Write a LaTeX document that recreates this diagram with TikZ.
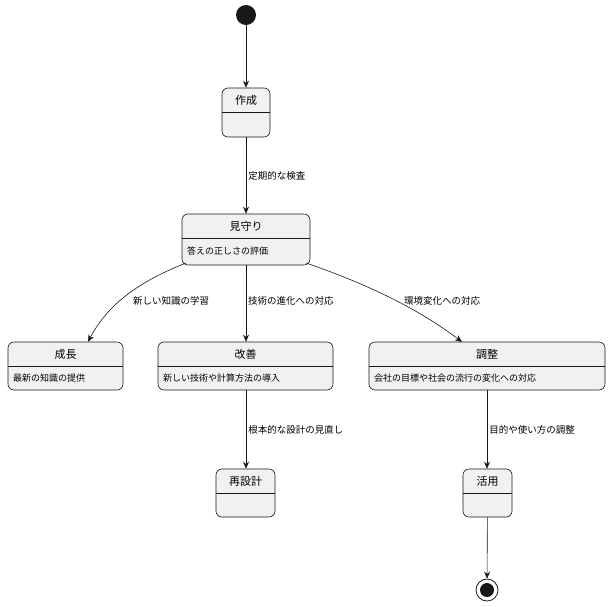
\documentclass[tikz,border=0pt]{standalone}
\usepackage{fontspec}
\setmainfont{Noto Sans CJK JP}
\usetikzlibrary{arrows.meta}
\definecolor{bx}{HTML}{F1F1F1}
\definecolor{ln}{HTML}{181818}
\tikzset{
 st/.style={draw=ln,fill=bx,rounded corners=6pt,inner sep=0pt,line width=0.6pt},
 ttl/.style={font=\fontsize{11}{13}\selectfont,inner sep=0pt},
 bdy/.style={font=\fontsize{9}{11}\selectfont,inner sep=0pt,anchor=west},
 lbl/.style={font=\fontsize{9.5}{11}\selectfont,inner sep=0pt,anchor=west},
 ar/.style={draw=ln,line width=0.6pt,-{Stealth[length=7pt,width=6pt]}}
}
% name, left, top, right, bottom, divider y, title, body
\newcommand{\stbox}[8]{%
 \node[st,minimum width={#4-#2},minimum height={#5-#3}] (#1) at ({(#2+#4)/2},{(#3+#5)/2}) {};
 \draw[ln,line width=0.6pt] (#2,#6) -- (#4,#6);
 \node[ttl] (#1t) at ({(#2+#4)/2},{(#3+#6)/2}) {#7};
 \node[bdy] (#1b) at ({#2+5},{(#6+#5)/2}) {#8};
}
\begin{document}
\begin{tikzpicture}[x=1pt,y=-1pt]
\useasboundingbox (0,0) rectangle (612,606);
\node[circle,fill=ln,minimum size=20pt,inner sep=0pt] (start) at (246,15) {};
\stbox{sak}{222}{88}{270}{137}{112}{作成}{}
\stbox{mim}{182}{214}{310}{265}{238}{見守り}{答えの正しさの評価}
\stbox{sei}{8}{342}{123}{390}{366}{成長}{最新の知識の提供}
\stbox{kai}{158}{342}{333}{390}{366}{改善}{新しい技術や計算方法の導入}
\stbox{cho}{369}{342}{605}{390}{366}{調整}{会社の目標や社会の流行の変化への対応}
\stbox{sai}{216}{469}{275}{517}{493}{再設計}{}
\stbox{kat}{463}{469}{512}{517}{493}{活用}{}
\node[circle,draw=ln,line width=0.8pt,minimum size=22pt,inner sep=0pt] (end) at (487,590) {};
\node[circle,fill=ln,minimum size=14pt,inner sep=0pt] at (end) {};
\draw[ar] (start) -- (sak);
\draw[ar] (sak) -- (mim) node[lbl,pos=0.5,xshift=2pt] {定期的な検査};
\draw[ar] (186,263) .. controls (130,285) and (105,310) .. (sei.north -| 88,0);
\draw[ar] (306,263) .. controls (370,285) and (420,310) .. (462,342);
\draw[ar] (mim.south -| 246,0) -- (kai.north -| 246,0);
\node[lbl] (l1) at (133,301) {新しい知識の学習};
\node[lbl] (l2) at (248,301) {技術の進化への対応};
\node[lbl] (l3) at (404,301) {環境変化への対応};
\draw[ar] (kai.south -| 246,0) -- (sai.north -| 246,0) node[lbl,pos=0.5,xshift=2pt] {根本的な設計の見直し};
\draw[ar] (cho.south -| 487,0) -- (kat.north -| 487,0) node[lbl,pos=0.5,xshift=2pt] {目的や使い方の調整};
\draw[ar] (kat) -- (end);
\end{tikzpicture}
\end{document}
